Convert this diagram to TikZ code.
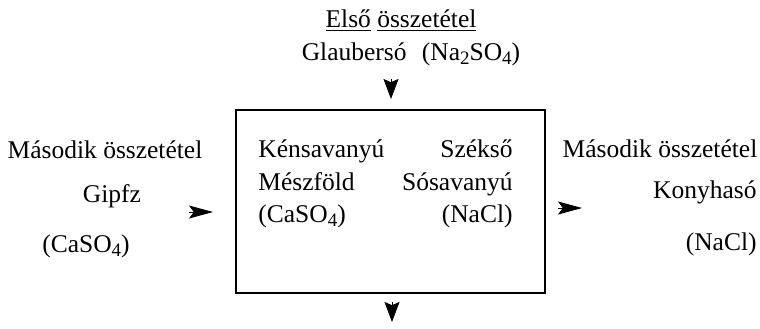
\documentclass[tikz,border=0pt]{standalone}
\usepackage{fontspec}
\setmainfont{Liberation Serif}
\usetikzlibrary{arrows.meta,positioning}
\newcommand{\chemsub}[1]{\raisebox{-0.4ex}{\fontsize{9.5}{10}\selectfont #1}}

\begin{document}
\begin{tikzpicture}[x=0.5pt,y=-0.5pt,
  every node/.style={inner sep=0pt,font=\fontsize{12.75}{16}\selectfont},
  lbl/.style={anchor=base},
  lblw/.style={anchor=base west},
  lble/.style={anchor=base east},
  vtip/.style={-{Stealth[length=10pt,width=7.5pt,inset=1.6pt]}},
  htip/.style={-{Stealth[length=12pt,width=6.5pt,inset=2.4pt]}}]
  \useasboundingbox (0,0) rectangle (760,328);
  % the vessel
  \node[draw,line width=0.8pt,minimum width=154.5pt,minimum height=91.5pt] (box) at (390.5,201.5) {};
  \node[lblw] (ken) at (258,157) {Kénsavanyú};
  \node[lblw] (mesz) at (258,190) {Mészföld};
  \node[lblw] (caso1) at (258,222) {(CaSO\chemsub{4})};
  \node[lble] (szek) at (513,157) {Székső};
  \node[lble] (sosav) at (513,190) {Sósavanyú};
  \node[lble] (nacl1) at (513,222) {(NaCl)};
  % first composition (top)
  \node[lbl] (first) at (401,27) {\underline{Első} \underline{összetétel}};
  \node[lbl] (glauber) at (411,60) {Glaubersó\hspace{0.6em}(Na\chemsub{2}SO\chemsub{4})};
  % second composition (left, right)
  \node[lbl] (secl) at (105,158) {Második összetétel};
  \node[lbl] (gipfz) at (112,202) {Gipfz};
  \node[lbl] (caso2) at (86,252) {(CaSO\chemsub{4})};
  \node[lbl] (secr) at (660,157) {Második összetétel};
  \node[lble] (konyha) at (757,198) {Konyhasó};
  \node[lble] (nacl2) at (757,250) {(NaCl)};
  % arrow heads
  \coordinate (tin) at (391,79);  \coordinate (tinb) at (391,99);
  \coordinate (bout) at (392,302); \coordinate (boutb) at (392,322);
  \coordinate (lin) at (189,212); \coordinate (linb) at (213,212);
  \coordinate (rout) at (558,208); \coordinate (routb) at (582,208);
  \draw[vtip] (tin) -- (tinb);
  \draw[vtip] (bout) -- (boutb);
  \draw[htip] (lin) -- (linb);
  \draw[htip] (rout) -- (routb);
\end{tikzpicture}
\end{document}
